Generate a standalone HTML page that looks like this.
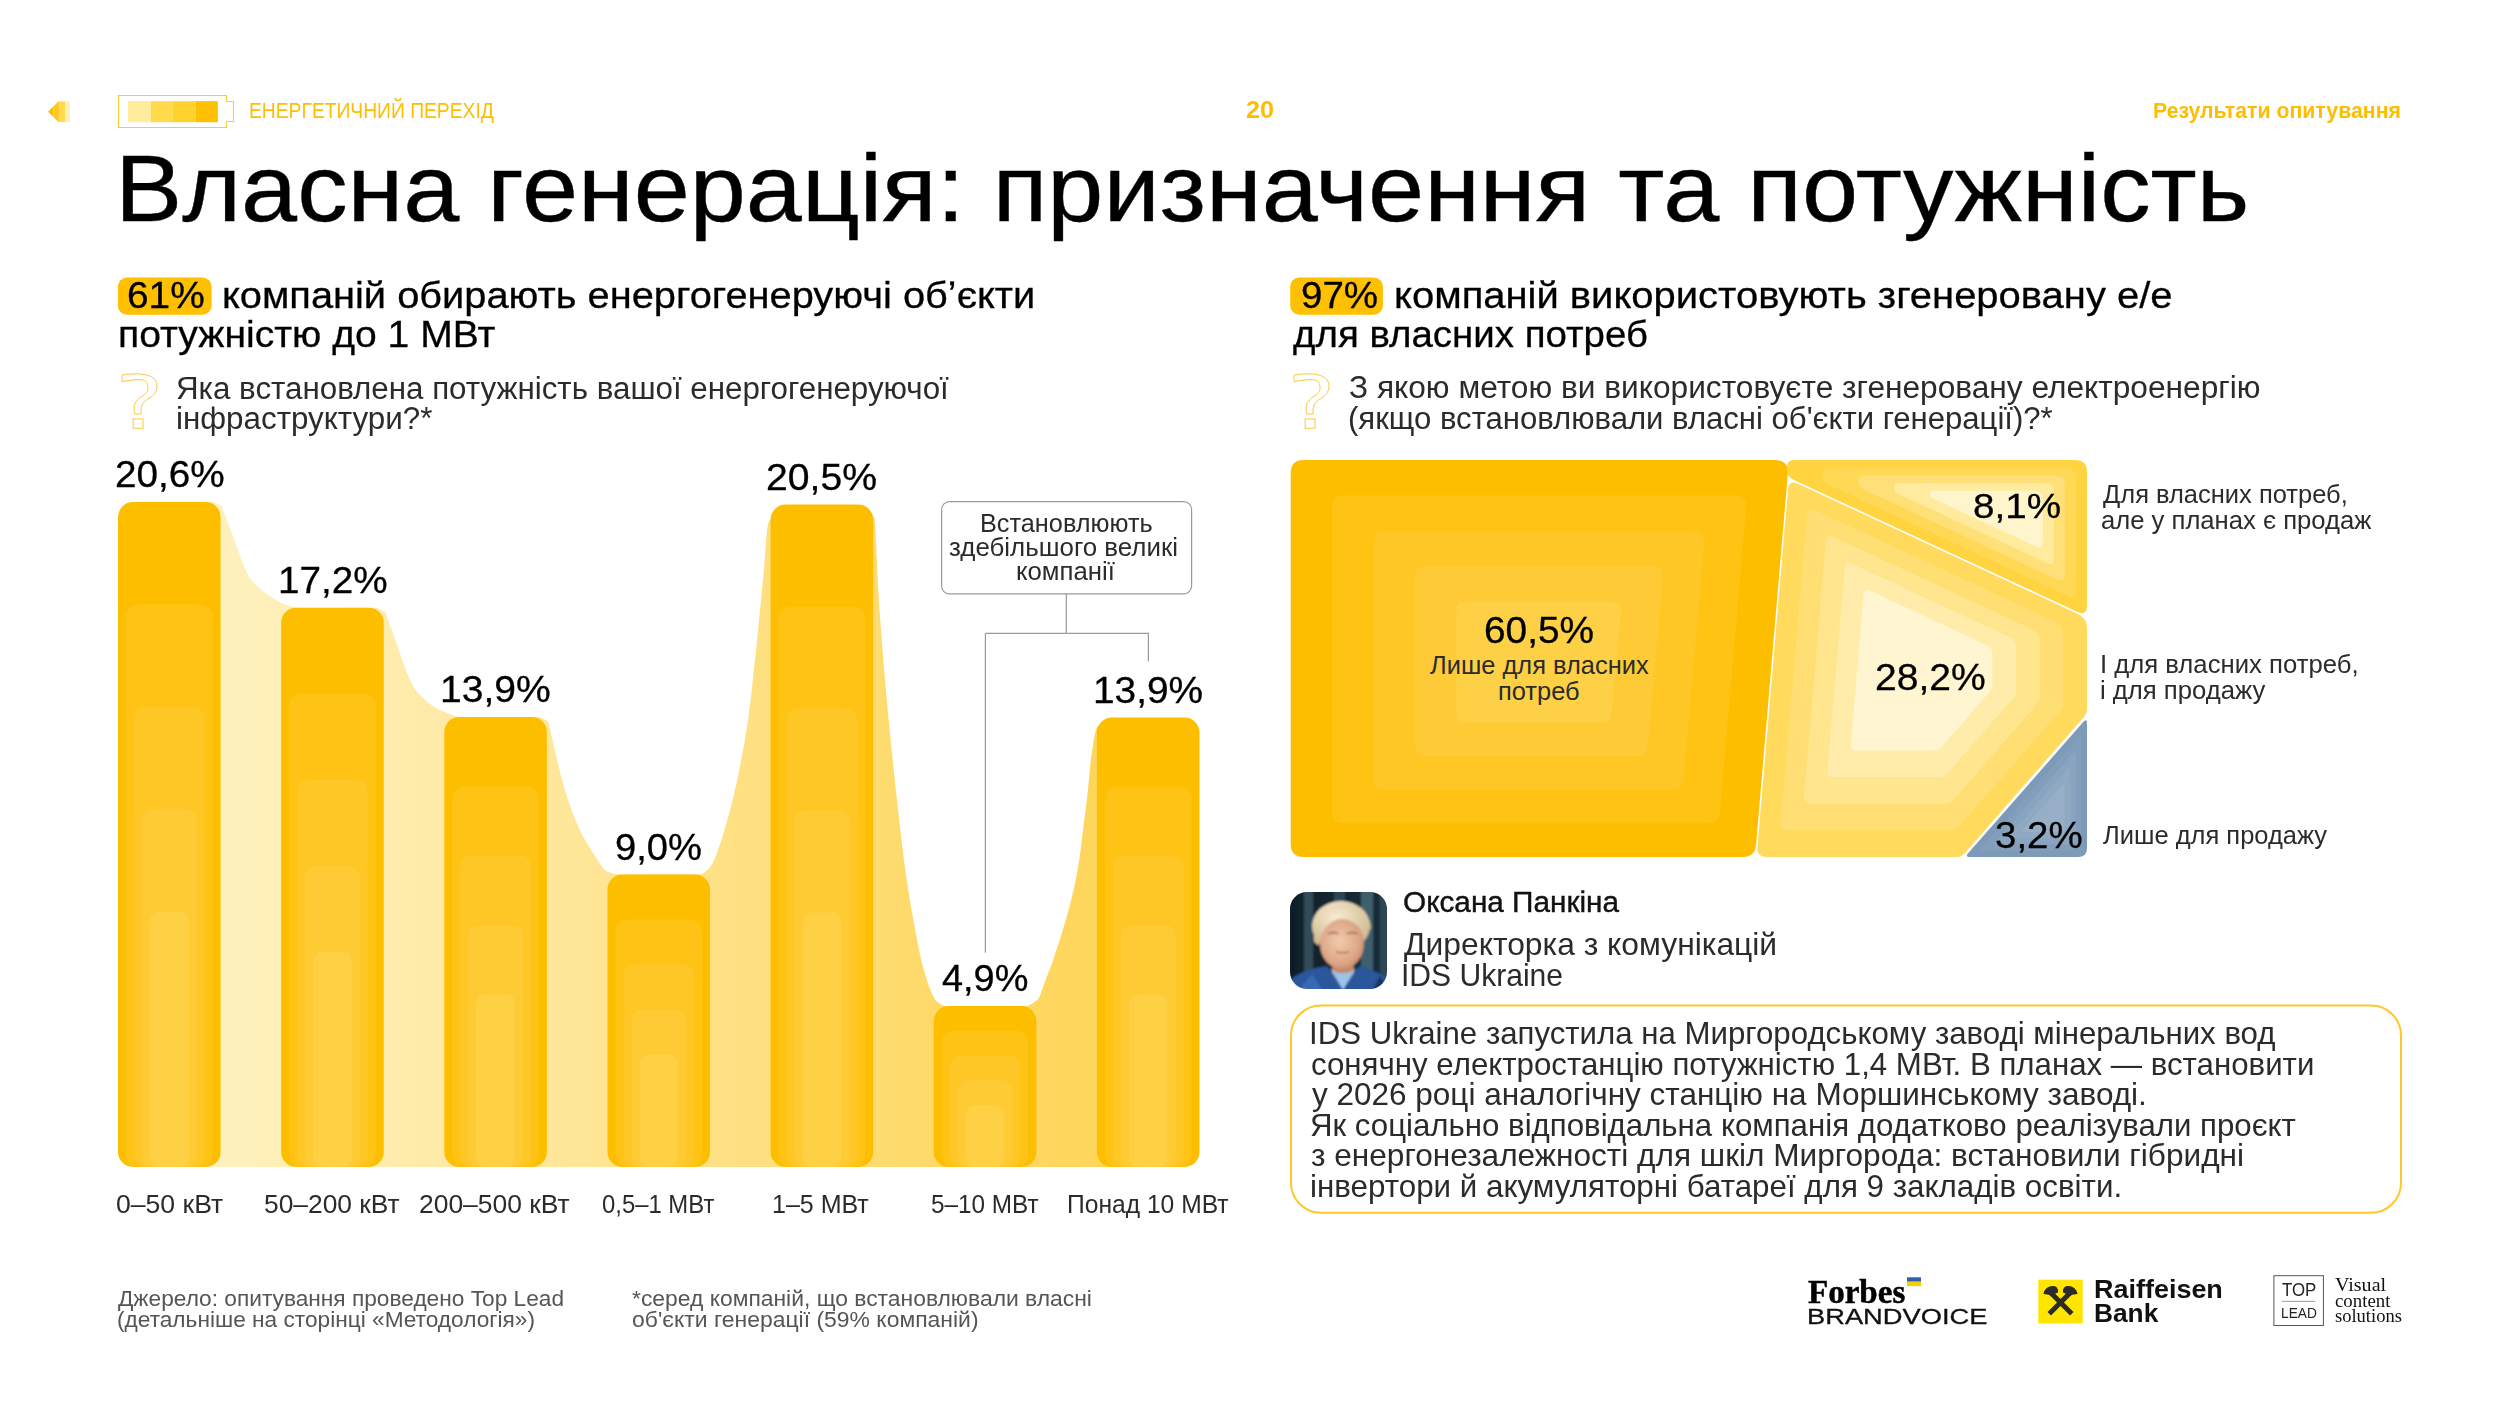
<!DOCTYPE html>
<html><head><meta charset="utf-8">
<style>
html,body{margin:0;padding:0;background:#fff;}
body{width:2520px;height:1418px;position:relative;overflow:hidden;}
.t{position:absolute;white-space:nowrap;line-height:1;transform-origin:0 0;}
svg{position:absolute;left:0;top:0;}
</style></head><body>
<svg width="2520" height="1418" viewBox="0 0 2520 1418">
<defs><clipPath id="arr"><polygon points="48,111.65 58.5,101.2 70.2,101.2 70.2,122.1 58.5,122.1"/></clipPath></defs>
<g clip-path="url(#arr)"><rect x="47" y="101.2" width="6.2" height="20.9" fill="#FEBE00"/><rect x="53.2" y="101.2" width="6" height="20.9" fill="#FEC823"/><rect x="59.2" y="101.2" width="5.9" height="20.9" fill="#FFD84D"/><rect x="65.1" y="101.2" width="5.1" height="20.9" fill="#FFF0B8"/></g>
<path d="M118.5,95.5 H226.5 V101.5 H233.5 V121.5 H226.5 V127.5 H118.5 Z" fill="none" stroke="#FFCA3A" stroke-width="1.1"/>
<rect x="128" y="101.2" width="23" height="21" fill="#FFEC9A"/>
<rect x="151" y="101.2" width="22" height="21" fill="#FFDA4A"/>
<rect x="173" y="101.2" width="23" height="21" fill="#FFD230"/>
<rect x="196" y="101.2" width="21.8" height="21" fill="#FEC000"/>
<rect x="117.9" y="277.6" width="93.7" height="37.1" rx="9" fill="#FEC000"/>
<g transform="translate(0,0)"><path d="M122,375.2 C128,373.8 135,373.6 140.5,374 C151,374.8 157.5,379 157,387 C156.6,392.5 153,396 148,399 C143.5,401.8 141.1,404.5 141.1,410.8 L141.1,414 L134.8,414 L134.1,410.8 C133.6,403 137,399.3 143,395.6 C147,393 148.3,390.5 148,386.5 C147.5,381.5 144.5,379.8 140.5,379.7 C134,379.5 128,380.5 122,381.6 Z" fill="none" stroke="#FEC63C" stroke-width="1"/><rect x="133.2" y="419" width="9.8" height="9.2" fill="none" stroke="#FEC63C" stroke-width="1"/></g>
<rect x="1290.2" y="277.6" width="92.7" height="37.1" rx="9" fill="#FEC000"/>
<g transform="translate(1172,0)"><path d="M122,375.2 C128,373.8 135,373.6 140.5,374 C151,374.8 157.5,379 157,387 C156.6,392.5 153,396 148,399 C143.5,401.8 141.1,404.5 141.1,410.8 L141.1,414 L134.8,414 L134.1,410.8 C133.6,403 137,399.3 143,395.6 C147,393 148.3,390.5 148,386.5 C147.5,381.5 144.5,379.8 140.5,379.7 C134,379.5 128,380.5 122,381.6 Z" fill="none" stroke="#FEC63C" stroke-width="1"/><rect x="133.2" y="419" width="9.8" height="9.2" fill="none" stroke="#FEC63C" stroke-width="1"/></g>
<defs><linearGradient id="ag" x1="118" y1="0" x2="1200" y2="0" gradientUnits="userSpaceOnUse"><stop offset="0" stop-color="#FEF3C6"/><stop offset="0.13" stop-color="#FEF0BA"/><stop offset="0.43" stop-color="#FEE697"/><stop offset="0.58" stop-color="#FEE082"/><stop offset="0.74" stop-color="#FEDA6B"/><stop offset="1" stop-color="#FED352"/></linearGradient></defs>
<path d="M134.0,1167.0 L123.0,1163.0 L118.5,1151.0 L118.5,522.0 L125.5,507.0 L134.00,502.50 L142.65,502.43 L155.21,502.32 L169.80,502.20 L184.50,502.09 L197.40,502.01 L206.60,502.00 L211.68,502.02 L214.07,502.06 L214.67,502.14 L214.36,502.27 L214.04,502.48 L214.60,502.80 L215.95,503.23 L217.36,503.77 L218.75,504.39 L220.06,505.06 L221.20,505.77 L222.10,506.50 L222.62,507.03 L222.79,507.36 L222.79,507.71 L222.82,508.36 L223.06,509.53 L223.70,511.50 L224.76,514.34 L226.10,517.88 L227.66,521.96 L229.35,526.41 L231.12,531.08 L232.90,535.80 L234.79,540.93 L236.87,546.67 L239.03,552.62 L241.14,558.41 L243.10,563.63 L244.80,567.90 L246.10,571.04 L247.07,573.33 L247.88,575.05 L248.72,576.51 L249.77,577.99 L251.20,579.80 L253.02,581.91 L255.09,584.10 L257.36,586.31 L259.79,588.50 L262.35,590.65 L265.00,592.70 L267.84,594.73 L270.94,596.78 L274.16,598.78 L277.37,600.64 L280.46,602.31 L283.30,603.70 L285.86,604.78 L288.23,605.60 L290.48,606.22 L292.66,606.69 L294.81,607.06 L297.00,607.40 L298.67,607.65 L299.65,607.76 L300.62,607.78 L302.23,607.75 L305.14,607.71 L310.00,607.70 L317.84,607.70 L328.33,607.68 L340.12,607.65 L351.86,607.63 L362.19,607.64 L369.75,607.70 L374.22,607.79 L376.60,607.89 L377.58,608.02 L377.81,608.20 L377.98,608.45 L378.75,608.80 L380.03,609.25 L381.26,609.78 L382.43,610.38 L383.50,611.04 L384.45,611.75 L385.25,612.50 L385.77,613.04 L385.99,613.32 L386.10,613.66 L386.26,614.33 L386.63,615.65 L387.40,617.90 L388.63,621.33 L390.21,625.76 L392.01,630.83 L393.91,636.18 L395.78,641.46 L397.50,646.30 L399.09,650.83 L400.64,655.34 L402.16,659.78 L403.67,664.08 L405.18,668.18 L406.70,672.00 L408.11,675.50 L409.40,678.71 L410.67,681.73 L412.08,684.61 L413.75,687.44 L415.80,690.30 L418.28,693.23 L421.08,696.19 L424.14,699.09 L427.40,701.88 L430.77,704.47 L434.20,706.80 L437.86,708.90 L441.84,710.84 L445.94,712.59 L449.96,714.12 L453.72,715.40 L457.00,716.40 L459.16,717.03 L460.21,717.29 L460.99,717.30 L462.33,717.18 L465.06,717.04 L470.00,717.00 L478.22,717.02 L489.27,717.00 L501.70,716.96 L514.08,716.93 L524.96,716.94 L532.90,717.00 L537.55,717.09 L539.99,717.20 L540.92,717.33 L541.08,717.53 L541.17,717.81 L541.90,718.20 L543.18,718.70 L544.42,719.27 L545.59,719.93 L546.67,720.69 L547.61,721.54 L548.40,722.50 L548.90,723.26 L549.11,723.75 L549.20,724.34 L549.32,725.40 L549.63,727.29 L550.30,730.40 L551.38,735.08 L552.75,741.10 L554.31,747.96 L555.97,755.16 L557.64,762.17 L559.20,768.50 L560.64,774.15 L562.03,779.54 L563.41,784.74 L564.85,789.86 L566.40,794.98 L568.10,800.20 L570.00,805.61 L572.05,811.17 L574.21,816.73 L576.43,822.15 L578.64,827.29 L580.80,832.00 L582.95,836.26 L585.13,840.19 L587.31,843.84 L589.45,847.25 L591.53,850.49 L593.50,853.60 L595.39,856.64 L597.23,859.56 L599.00,862.31 L600.68,864.81 L602.25,867.00 L603.70,868.80 L604.98,870.12 L606.09,871.00 L607.09,871.56 L608.04,871.93 L609.00,872.24 L610.00,872.60 L611.03,872.98 L612.05,873.28 L613.06,873.51 L614.10,873.69 L615.17,873.85 L616.30,874.00 L616.85,874.14 L616.68,874.25 L616.54,874.34 L617.21,874.40 L619.44,874.46 L624.00,874.50 L632.02,874.53 L643.10,874.56 L655.76,874.56 L668.47,874.56 L679.73,874.53 L688.05,874.50 L693.16,874.45 L696.20,874.40 L697.81,874.32 L698.57,874.24 L699.12,874.13 L700.05,874.00 L701.09,874.01 L701.69,874.19 L702.06,874.34 L702.43,874.29 L703.00,873.84 L704.00,872.80 L705.40,871.51 L707.04,870.18 L708.88,868.46 L710.91,865.96 L713.09,862.33 L715.40,857.20 L717.94,850.31 L720.76,841.92 L723.73,832.39 L726.74,822.10 L729.67,811.41 L732.40,800.70 L734.98,789.74 L737.52,778.18 L739.98,766.23 L742.32,754.08 L744.51,741.94 L746.50,730.00 L748.24,718.40 L749.75,707.01 L751.11,695.63 L752.38,684.05 L753.65,672.08 L755.00,659.50 L756.46,645.75 L757.97,630.88 L759.49,615.61 L760.94,600.67 L762.26,586.79 L763.40,574.70 L764.31,564.29 L765.02,554.95 L765.61,546.68 L766.14,539.44 L766.68,533.22 L767.30,528.00 L767.99,524.16 L768.70,521.80 L769.42,520.46 L770.14,519.68 L770.84,519.01 L771.50,518.00 L771.99,516.72 L772.29,515.56 L772.58,514.50 L773.01,513.56 L773.76,512.72 L775.00,512.00 L776.28,511.41 L777.36,510.96 L778.77,510.62 L781.00,510.37 L784.58,510.17 L790.00,510.00 L798.28,509.86 L809.21,509.78 L821.48,509.75 L833.77,509.78 L844.78,509.86 L853.20,510.00 L858.88,510.17 L862.84,510.35 L865.51,510.59 L867.34,510.93 L868.76,511.38 L870.20,512.00 L871.42,512.84 L872.02,513.89 L872.21,515.06 L872.19,516.27 L872.19,517.45 L872.40,518.50 L872.78,518.51 L873.14,517.37 L873.51,516.19 L873.91,516.09 L874.36,518.18 L874.90,523.60 L875.50,533.00 L876.15,545.63 L876.86,560.45 L877.63,576.45 L878.47,592.61 L879.40,607.90 L880.42,622.56 L881.53,637.45 L882.72,652.49 L883.97,667.62 L885.26,682.75 L886.60,697.80 L887.98,712.80 L889.40,727.80 L890.88,742.80 L892.40,757.80 L893.98,772.80 L895.60,787.80 L897.27,803.00 L899.00,818.44 L900.77,833.88 L902.60,849.07 L904.48,863.76 L906.40,877.70 L908.46,891.24 L910.67,904.65 L912.94,917.56 L915.15,929.60 L917.20,940.40 L919.00,949.60 L920.51,956.88 L921.80,962.46 L922.93,966.81 L923.97,970.37 L924.97,973.62 L926.00,977.00 L927.04,980.39 L928.03,983.41 L928.99,986.10 L929.91,988.53 L930.82,990.74 L931.70,992.80 L932.52,994.64 L933.25,996.22 L933.96,997.58 L934.70,998.79 L935.53,999.91 L936.50,1001.00 L937.64,1002.06 L938.91,1003.06 L940.27,1003.96 L941.67,1004.74 L943.06,1005.40 L944.40,1005.90 L945.00,1006.20 L944.76,1006.29 L944.51,1006.26 L945.08,1006.15 L947.30,1006.04 L952.00,1006.00 L960.41,1006.01 L972.12,1006.01 L985.48,1006.01 L998.84,1006.01 L1010.56,1006.01 L1019.00,1006.00 L1023.76,1006.03 L1026.07,1006.10 L1026.75,1006.16 L1026.59,1006.18 L1026.41,1006.11 L1027.00,1005.90 L1028.24,1005.55 L1029.47,1005.09 L1030.67,1004.54 L1031.83,1003.91 L1032.94,1003.23 L1034.00,1002.50 L1034.97,1001.84 L1035.86,1001.25 L1036.70,1000.60 L1037.53,999.76 L1038.38,998.61 L1039.30,997.00 L1040.28,994.83 L1041.29,992.18 L1042.32,989.21 L1043.38,986.09 L1044.44,982.96 L1045.50,980.00 L1046.51,977.37 L1047.48,974.99 L1048.45,972.60 L1049.49,969.98 L1050.65,966.89 L1052.00,963.10 L1053.59,958.45 L1055.40,953.09 L1057.33,947.26 L1059.29,941.20 L1061.21,935.13 L1063.00,929.30 L1064.68,923.65 L1066.32,918.00 L1067.92,912.35 L1069.46,906.70 L1070.92,901.05 L1072.30,895.40 L1073.59,889.76 L1074.81,884.13 L1075.96,878.50 L1077.04,872.87 L1078.05,867.24 L1079.00,861.60 L1079.86,855.95 L1080.61,850.30 L1081.31,844.65 L1081.96,839.00 L1082.62,833.35 L1083.30,827.70 L1084.02,822.06 L1084.74,816.43 L1085.46,810.80 L1086.16,805.17 L1086.85,799.54 L1087.50,793.90 L1088.10,788.20 L1088.64,782.43 L1089.17,776.65 L1089.70,770.94 L1090.27,765.37 L1090.90,760.00 L1091.60,754.63 L1092.35,749.16 L1093.14,743.82 L1093.95,738.86 L1094.77,734.50 L1095.60,731.00 L1096.44,728.53 L1097.30,726.93 L1098.17,725.94 L1099.05,725.30 L1099.93,724.74 L1100.80,724.00 L1101.56,723.11 L1102.21,722.30 L1102.85,721.56 L1103.61,720.93 L1104.62,720.40 L1106.00,720.00 L1107.25,719.77 L1108.18,719.70 L1109.36,719.75 L1111.34,719.85 L1114.70,719.95 L1120.00,720.00 L1128.45,720.00 L1139.85,720.00 L1152.62,720.00 L1165.20,720.00 L1176.02,720.00 L1183.50,720.00 L1193.5,722.0 L1199.0,735.5 L1199.0,1151.0 L1194.5,1163.0 L1183.5,1167.0 Z" fill="url(#ag)"/>
<rect x="118.00" y="502.00" width="102.60" height="665.00" rx="15" ry="15" fill="#FEBE00"/>
<rect x="126.00" y="604.41" width="86.60" height="562.59" rx="12" ry="12" fill="#FEC314"/>
<rect x="134.00" y="706.82" width="70.60" height="460.18" rx="11" ry="11" fill="#FEC726"/>
<rect x="142.00" y="809.23" width="54.60" height="357.77" rx="10" ry="10" fill="#FECB35"/>
<rect x="150.00" y="911.64" width="38.60" height="255.36" rx="9" ry="9" fill="#FED044"/>
<rect x="281.15" y="607.70" width="102.60" height="559.30" rx="15" ry="15" fill="#FEBE00"/>
<rect x="289.15" y="693.83" width="86.60" height="473.17" rx="12" ry="12" fill="#FEC314"/>
<rect x="297.15" y="779.96" width="70.60" height="387.04" rx="11" ry="11" fill="#FEC726"/>
<rect x="305.15" y="866.10" width="54.60" height="300.90" rx="10" ry="10" fill="#FECB35"/>
<rect x="313.15" y="952.23" width="38.60" height="214.77" rx="9" ry="9" fill="#FED044"/>
<rect x="444.30" y="717.00" width="102.60" height="450.00" rx="15" ry="15" fill="#FEBE00"/>
<rect x="452.30" y="786.30" width="86.60" height="380.70" rx="12" ry="12" fill="#FEC314"/>
<rect x="460.30" y="855.60" width="70.60" height="311.40" rx="11" ry="11" fill="#FEC726"/>
<rect x="468.30" y="924.90" width="54.60" height="242.10" rx="10" ry="10" fill="#FECB35"/>
<rect x="476.30" y="994.20" width="38.60" height="172.80" rx="9" ry="9" fill="#FED044"/>
<rect x="607.45" y="874.50" width="102.60" height="292.50" rx="15" ry="15" fill="#FEBE00"/>
<rect x="615.45" y="919.54" width="86.60" height="247.46" rx="12" ry="12" fill="#FEC314"/>
<rect x="623.45" y="964.59" width="70.60" height="202.41" rx="11" ry="11" fill="#FEC726"/>
<rect x="631.45" y="1009.63" width="54.60" height="157.37" rx="10" ry="10" fill="#FECB35"/>
<rect x="639.45" y="1054.68" width="38.60" height="112.32" rx="9" ry="9" fill="#FED044"/>
<rect x="770.60" y="504.50" width="102.60" height="662.50" rx="15" ry="15" fill="#FEBE00"/>
<rect x="778.60" y="606.52" width="86.60" height="560.48" rx="12" ry="12" fill="#FEC314"/>
<rect x="786.60" y="708.55" width="70.60" height="458.45" rx="11" ry="11" fill="#FEC726"/>
<rect x="794.60" y="810.58" width="54.60" height="356.42" rx="10" ry="10" fill="#FECB35"/>
<rect x="802.60" y="912.60" width="38.60" height="254.40" rx="9" ry="9" fill="#FED044"/>
<rect x="933.75" y="1006.00" width="102.60" height="161.00" rx="15" ry="15" fill="#FEBE00"/>
<rect x="941.75" y="1030.79" width="86.60" height="136.21" rx="12" ry="12" fill="#FEC314"/>
<rect x="949.75" y="1055.59" width="70.60" height="111.41" rx="11" ry="11" fill="#FEC726"/>
<rect x="957.75" y="1080.38" width="54.60" height="86.62" rx="10" ry="10" fill="#FECB35"/>
<rect x="965.75" y="1105.18" width="38.60" height="61.82" rx="9" ry="9" fill="#FED044"/>
<rect x="1096.90" y="717.50" width="102.60" height="449.50" rx="15" ry="15" fill="#FEBE00"/>
<rect x="1104.90" y="786.72" width="86.60" height="380.28" rx="12" ry="12" fill="#FEC314"/>
<rect x="1112.90" y="855.95" width="70.60" height="311.05" rx="11" ry="11" fill="#FEC726"/>
<rect x="1120.90" y="925.17" width="54.60" height="241.83" rx="10" ry="10" fill="#FECB35"/>
<rect x="1128.90" y="994.39" width="38.60" height="172.61" rx="9" ry="9" fill="#FED044"/>
<rect x="941.6" y="501.6" width="250" height="92.3" rx="8" fill="#fff" stroke="#9a9a9a" stroke-width="1.2"/>
<path d="M1066.3,594 V633.4 M985.4,633.4 H1148.4 V661.6 M985.4,633.4 V952.7" fill="none" stroke="#9a9a9a" stroke-width="1.2"/>
<path d="M1303.70,460.00 L1775.00,460.00 Q1789.00,460.00 1787.81,473.95 L1756.04,845.04 Q1755.02,857.00 1743.02,857.00 L1303.70,857.00 Q1290.70,857.00 1290.70,844.00 L1290.70,473.00 Q1290.70,460.00 1303.70,460.00 Z" fill="#FEBE00"/>
<path d="M1344.13,495.44 L1734.22,495.44 Q1747.22,495.44 1746.10,508.40 L1719.85,812.41 Q1718.91,823.37 1707.91,823.37 L1344.13,823.37 Q1332.13,823.37 1332.13,811.37 L1332.13,507.44 Q1332.13,495.44 1344.13,495.44 Z" fill="#FEC313"/>
<path d="M1384.57,530.89 L1693.43,530.89 Q1705.43,530.89 1704.39,542.84 L1683.67,779.77 Q1682.80,789.73 1672.80,789.73 L1384.57,789.73 Q1373.57,789.73 1373.57,778.73 L1373.57,541.89 Q1373.57,530.89 1384.57,530.89 Z" fill="#FEC726"/>
<path d="M1425.00,566.33 L1652.65,566.33 Q1663.65,566.33 1662.67,577.29 L1647.49,747.13 Q1646.69,756.10 1637.69,756.10 L1425.00,756.10 Q1415.00,756.10 1415.00,746.10 L1415.00,576.33 Q1415.00,566.33 1425.00,566.33 Z" fill="#FECB36"/>
<path d="M1465.43,601.78 L1611.87,601.78 Q1621.87,601.78 1620.94,611.73 L1611.33,714.50 Q1610.58,722.46 1602.58,722.46 L1465.43,722.46 Q1456.43,722.46 1456.43,713.46 L1456.43,610.78 Q1456.43,601.78 1465.43,601.78 Z" fill="#FED045"/>
<path d="M1794.00,460.00 L2075.00,460.00 Q2087.00,460.00 2087.00,472.00 L2087.00,605.43 Q2087.00,616.43 2077.03,611.79 L1793.35,479.82 Q1787.00,476.87 1787.00,469.87 L1787.00,467.00 Q1787.00,460.00 1794.00,460.00 Z" fill="#FFD440"/>
<path d="M1829.19,467.69 L2064.92,467.69 Q2075.92,467.69 2075.92,478.69 L2075.92,589.71 Q2075.92,599.71 2066.86,595.50 L1828.59,484.65 Q1822.72,481.93 1822.72,475.45 L1822.72,474.16 Q1822.72,467.69 1829.19,467.69 Z" fill="#FFD955"/>
<path d="M1863.72,475.38 L2054.85,475.38 Q2064.85,475.38 2064.85,485.38 L2064.85,574.00 Q2064.85,583.00 2056.69,579.21 L1863.23,489.21 Q1858.45,486.98 1858.45,481.71 L1858.45,480.66 Q1858.45,475.38 1863.72,475.38 Z" fill="#FFE078"/>
<path d="M1898.25,483.07 L2044.77,483.07 Q2053.77,483.07 2053.77,492.07 L2053.77,558.29 Q2053.77,566.29 2046.52,562.92 L1897.87,493.76 Q1894.17,492.04 1894.17,487.97 L1894.17,487.15 Q1894.17,483.07 1898.25,483.07 Z" fill="#FFEA9E"/>
<path d="M1932.78,490.76 L2034.70,490.76 Q2042.70,490.76 2042.70,498.76 L2042.70,542.58 Q2042.70,549.58 2036.35,546.63 L1932.51,498.32 Q1929.90,497.10 1929.90,494.22 L1929.90,493.65 Q1929.90,490.76 1932.78,490.76 Z" fill="#FFF5CD"/>
<path d="M1797.94,483.66 L2077.93,613.91 Q2087.00,618.13 2087.00,628.13 L2087.00,708.50 Q2087.00,713.50 2083.71,717.26 L1964.79,853.24 Q1961.50,857.00 1956.50,857.00 L1766.62,857.00 Q1756.62,857.00 1757.47,847.04 L1788.03,489.40 Q1788.88,479.44 1797.94,483.66 Z" fill="#FFDA5C"/>
<path d="M1815.86,510.39 L2055.18,621.72 Q2063.34,625.52 2063.34,634.52 L2063.34,702.30 Q2063.34,707.30 2060.05,711.06 L1959.02,826.59 Q1955.73,830.35 1950.73,830.35 L1789.04,830.35 Q1780.04,830.35 1780.81,821.39 L1806.94,515.56 Q1807.70,506.59 1815.86,510.39 Z" fill="#FFDF74"/>
<path d="M1833.79,537.12 L2032.44,629.54 Q2039.69,632.91 2039.69,640.91 L2039.69,696.10 Q2039.69,701.10 2036.40,704.87 L1953.25,799.94 Q1949.96,803.71 1944.96,803.71 L1811.47,803.71 Q1803.47,803.71 1804.15,795.73 L1825.85,541.72 Q1826.53,533.75 1833.79,537.12 Z" fill="#FFE58E"/>
<path d="M1851.71,563.86 L2009.69,637.35 Q2016.04,640.30 2016.04,647.30 L2016.04,689.90 Q2016.04,694.90 2012.74,698.67 L1947.48,773.29 Q1944.19,777.06 1939.19,777.06 L1833.89,777.06 Q1826.89,777.06 1827.49,770.08 L1844.76,567.88 Q1845.36,560.90 1851.71,563.86 Z" fill="#FFECAB"/>
<path d="M1869.63,590.59 L1986.94,645.16 Q1992.38,647.69 1992.38,653.69 L1992.38,683.71 Q1992.38,688.71 1989.09,692.47 L1941.71,746.65 Q1938.41,750.41 1933.41,750.41 L1856.32,750.41 Q1850.32,750.41 1850.83,744.43 L1863.68,594.04 Q1864.19,588.06 1869.63,590.59 Z" fill="#FFF5D0"/>
<path d="M2087.00,723.80 L2087.00,848.00 Q2087.00,857.00 2078.00,857.00 L1969.80,857.00 Q1964.80,857.00 1968.10,853.24 L2083.04,722.31 Q2087.00,717.80 2087.00,723.80 Z" fill="#7D9AB8"/>
<path d="M2081.40,739.83 L2081.40,842.76 Q2081.40,850.76 2073.40,850.76 L1983.75,850.76 Q1978.75,850.76 1982.05,847.00 L2077.44,738.34 Q2081.40,733.83 2081.40,739.83 Z" fill="#829EBB"/>
<path d="M2075.80,755.86 L2075.80,837.52 Q2075.80,844.52 2068.80,844.52 L1997.70,844.52 Q1992.70,844.52 1996.00,840.76 L2071.84,754.37 Q2075.80,749.86 2075.80,755.86 Z" fill="#89A4C0"/>
<path d="M2070.20,771.90 L2070.20,832.28 Q2070.20,838.28 2064.20,838.28 L2011.66,838.28 Q2006.66,838.28 2009.95,834.52 L2066.24,770.41 Q2070.20,765.90 2070.20,771.90 Z" fill="#90A9C3"/>
<path d="M2064.60,787.93 L2064.60,827.04 Q2064.60,832.04 2059.60,832.04 L2025.61,832.04 Q2020.61,832.04 2023.91,828.28 L2060.64,786.44 Q2064.60,781.93 2064.60,787.93 Z" fill="#97AEC7"/>
<defs><clipPath id="ph"><rect x="1290" y="892" width="97" height="97" rx="17"/></clipPath><filter id="blr" x="-10%" y="-10%" width="120%" height="120%"><feGaussianBlur stdDeviation="1.3"/></filter><radialGradient id="face" cx="0.45" cy="0.45" r="0.6"><stop offset="0" stop-color="#F2CBAE"/><stop offset="0.75" stop-color="#DDA585"/><stop offset="1" stop-color="#C0886A"/></radialGradient><radialGradient id="hair" cx="0.4" cy="0.3" r="0.75"><stop offset="0" stop-color="#F6ECD2"/><stop offset="1" stop-color="#CDB489"/></radialGradient><linearGradient id="bgph" x1="0" y1="0" x2="1" y2="0"><stop offset="0" stop-color="#0F1E26"/><stop offset="1" stop-color="#1A2F3A"/></linearGradient></defs>
<g clip-path="url(#ph)"><g filter="url(#blr)"><rect x="1285" y="887" width="107" height="107" fill="url(#bgph)"/><rect x="1304" y="887" width="9" height="107" fill="#48697A" opacity="0.6"/><rect x="1334" y="887" width="11" height="107" fill="#3E5E70" opacity="0.55"/><rect x="1361" y="887" width="12" height="107" fill="#5E8294" opacity="0.6"/><rect x="1380" y="887" width="8" height="107" fill="#41606E" opacity="0.5"/><path d="M1333,958 L1353,958 L1355,984 L1331,984 Z" fill="#C48B6C"/><ellipse cx="1341" cy="926" rx="29" ry="25" fill="url(#hair)"/><ellipse cx="1342" cy="944" rx="22" ry="25" fill="url(#face)"/><path d="M1314,942 C1312,918 1326,904 1345,905 C1362,906 1371,916 1371,930 C1364,920 1352,916 1340,918 C1329,921 1321,930 1319,946 Z" fill="url(#hair)"/><path d="M1290,994 L1290,980 C1298,973 1312,968 1327,966 L1343,988 L1359,966 C1372,969 1382,975 1392,980 L1392,994 Z" fill="#2A569B"/><path d="M1296,994 L1312,974 L1325,994 Z" fill="#3D73BD" opacity="0.7"/><path d="M1370,994 L1380,976 L1392,994 Z" fill="#132A4E" opacity="0.7"/><path d="M1330,968 L1343,990 L1356,968 C1350,975 1336,975 1330,968 Z" fill="#9CC3E8"/><path d="M1328,934 C1331,932 1336,932 1338,934 M1347,934 C1350,932 1355,932 1357,934" stroke="#5B4A46" stroke-width="1.4" fill="none" opacity="0.75"/><path d="M1336,952 C1340,953 1345,953 1349,952" stroke="#9A5E4A" stroke-width="1.6" fill="none" opacity="0.7"/></g></g>
<rect x="1291" y="1005.4" width="1110" height="207.4" rx="30" fill="none" stroke="#FEC72A" stroke-width="2"/>
<rect x="1907" y="1277.3" width="14" height="4.4" fill="#2F5FB0"/><rect x="1907" y="1281.7" width="14" height="4.5" fill="#F5D000"/>
<rect x="2038.3" y="1279.6" width="44.4" height="43.9" fill="#FFE500"/>
<g fill="#2B2B2B"><path d="M2047.5,1312 L2051,1315.5 L2072.5,1294 L2069,1290.5 Z"/><path d="M2073.5,1312 L2070,1315.5 L2048.5,1294 L2052,1290.5 Z"/><path d="M2043.5,1294 C2044.5,1288 2050,1285 2055.5,1286.5 C2057.5,1287.5 2058.5,1290 2058,1292.5 L2055.5,1293.5 L2054,1298 L2050.5,1295.5 C2048,1294 2046,1294.5 2043.5,1294 Z"/><path d="M2077.5,1294 C2076.5,1288 2071,1285 2065.5,1286.5 C2063.5,1287.5 2062.5,1290 2063,1292.5 L2065.5,1293.5 L2067,1298 L2070.5,1295.5 C2073,1294 2075,1294.5 2077.5,1294 Z"/></g>
<rect x="2273.9" y="1275.7" width="49.5" height="49.8" fill="none" stroke="#555" stroke-width="1"/>
<rect x="2281.6" y="1300.8" width="33.8" height="1.2" fill="#C9A0A0"/>
</svg>
<div class="t" style="left:248.51px;top:100.79px;font-size:21.51px;font-family:'Liberation Sans', sans-serif;font-weight:normal;color:#FEBE00;transform:scaleX(0.8960);">ЕНЕРГЕТИЧНИЙ ПЕРЕХІД</div>
<div class="t" style="left:1245.92px;top:99.31px;font-size:23.26px;font-family:'Liberation Sans', sans-serif;font-weight:bold;color:#FEBE00;transform:scaleX(1.0833);">20</div>
<div class="t" style="left:2153.06px;top:98.81px;font-size:22.67px;font-family:'Liberation Sans', sans-serif;font-weight:bold;color:#FEBE00;transform:scaleX(0.9389);">Результати опитування</div>
<div class="t" style="left:115.46px;top:141.02px;font-size:94.48px;font-family:'Liberation Sans', sans-serif;font-weight:normal;color:#000;transform:scaleX(1.0674);-webkit-text-stroke:0.4px #000;">Власна генерація: призначення та потужність</div>
<div class="t" style="left:126.94px;top:277.41px;font-size:37.79px;font-family:'Liberation Sans', sans-serif;font-weight:normal;color:#000;transform:scaleX(1.0278);-webkit-text-stroke:0.3px #000;">61%</div>
<div class="t" style="left:221.84px;top:277.41px;font-size:37.79px;font-family:'Liberation Sans', sans-serif;font-weight:normal;color:#000;transform:scaleX(1.0535);-webkit-text-stroke:0.3px #000;">компаній обирають енергогенеруючі обʼєкти</div>
<div class="t" style="left:117.70px;top:316.11px;font-size:37.79px;font-family:'Liberation Sans', sans-serif;font-weight:normal;color:#000;transform:scaleX(1.0337);-webkit-text-stroke:0.3px #000;">потужністю до 1 МВт</div>
<div class="t" style="left:1300.56px;top:277.41px;font-size:37.79px;font-family:'Liberation Sans', sans-serif;font-weight:normal;color:#000;transform:scaleX(1.0194);-webkit-text-stroke:0.3px #000;">97%</div>
<div class="t" style="left:1393.63px;top:277.41px;font-size:37.79px;font-family:'Liberation Sans', sans-serif;font-weight:normal;color:#000;transform:scaleX(1.0577);-webkit-text-stroke:0.3px #000;">компаній використовують згенеровану е/е</div>
<div class="t" style="left:1292.80px;top:316.11px;font-size:37.79px;font-family:'Liberation Sans', sans-serif;font-weight:normal;color:#000;transform:scaleX(1.0179);-webkit-text-stroke:0.3px #000;">для власних потреб</div>
<div class="t" style="left:175.87px;top:373.52px;font-size:30.81px;font-family:'Liberation Sans', sans-serif;font-weight:normal;color:#2b2b2b;transform:scaleX(1.0166);">Яка встановлена потужність вашої енергогенеруючої</div>
<div class="t" style="left:176.46px;top:403.72px;font-size:30.81px;font-family:'Liberation Sans', sans-serif;font-weight:normal;color:#2b2b2b;transform:scaleX(1.0181);">інфраструктури?*</div>
<div class="t" style="left:1349.47px;top:373.42px;font-size:30.81px;font-family:'Liberation Sans', sans-serif;font-weight:normal;color:#2b2b2b;transform:scaleX(1.0277);">З якою метою ви використовуєте згенеровану електроенергію</div>
<div class="t" style="left:1348.48px;top:403.72px;font-size:30.81px;font-family:'Liberation Sans', sans-serif;font-weight:normal;color:#2b2b2b;transform:scaleX(1.0093);">(якщо встановлювали власні об&#x27;єкти генерації)?*</div>
<div class="t" style="left:114.61px;top:456.02px;font-size:37.06px;font-family:'Liberation Sans', sans-serif;font-weight:normal;color:#000;transform:scaleX(1.0441);-webkit-text-stroke:0.3px #000;">20,6%</div>
<div class="t" style="left:115.67px;top:1192.40px;font-size:25.87px;font-family:'Liberation Sans', sans-serif;font-weight:normal;color:#2b2b2b;transform:scaleX(1.0282);">0–50 кВт</div>
<div class="t" style="left:277.87px;top:561.72px;font-size:37.06px;font-family:'Liberation Sans', sans-serif;font-weight:normal;color:#000;transform:scaleX(1.0426);-webkit-text-stroke:0.3px #000;">17,2%</div>
<div class="t" style="left:263.98px;top:1192.40px;font-size:25.87px;font-family:'Liberation Sans', sans-serif;font-weight:normal;color:#2b2b2b;transform:scaleX(1.0197);">50–200 кВт</div>
<div class="t" style="left:440.44px;top:671.02px;font-size:37.06px;font-family:'Liberation Sans', sans-serif;font-weight:normal;color:#000;transform:scaleX(1.0535);-webkit-text-stroke:0.3px #000;">13,9%</div>
<div class="t" style="left:419.18px;top:1192.40px;font-size:25.87px;font-family:'Liberation Sans', sans-serif;font-weight:normal;color:#2b2b2b;transform:scaleX(1.0224);">200–500 кВт</div>
<div class="t" style="left:614.94px;top:828.52px;font-size:37.06px;font-family:'Liberation Sans', sans-serif;font-weight:normal;color:#000;transform:scaleX(1.0293);-webkit-text-stroke:0.3px #000;">9,0%</div>
<div class="t" style="left:602.18px;top:1192.40px;font-size:25.87px;font-family:'Liberation Sans', sans-serif;font-weight:normal;color:#2b2b2b;transform:scaleX(0.9231);">0,5–1 МВт</div>
<div class="t" style="left:766.29px;top:458.52px;font-size:37.06px;font-family:'Liberation Sans', sans-serif;font-weight:normal;color:#000;transform:scaleX(1.0569);-webkit-text-stroke:0.3px #000;">20,5%</div>
<div class="t" style="left:772.07px;top:1192.40px;font-size:25.87px;font-family:'Liberation Sans', sans-serif;font-weight:normal;color:#2b2b2b;transform:scaleX(0.9673);">1–5 МВт</div>
<div class="t" style="left:941.88px;top:960.02px;font-size:37.06px;font-family:'Liberation Sans', sans-serif;font-weight:normal;color:#000;transform:scaleX(1.0229);-webkit-text-stroke:0.3px #000;">4,9%</div>
<div class="t" style="left:930.96px;top:1192.40px;font-size:25.87px;font-family:'Liberation Sans', sans-serif;font-weight:normal;color:#2b2b2b;transform:scaleX(0.9404);">5–10 МВт</div>
<div class="t" style="left:1093.06px;top:671.52px;font-size:37.06px;font-family:'Liberation Sans', sans-serif;font-weight:normal;color:#000;transform:scaleX(1.0475);-webkit-text-stroke:0.3px #000;">13,9%</div>
<div class="t" style="left:1066.80px;top:1192.40px;font-size:25.87px;font-family:'Liberation Sans', sans-serif;font-weight:normal;color:#2b2b2b;transform:scaleX(0.9524);">Понад 10 МВт</div>
<div class="t" style="left:979.99px;top:510.51px;font-size:25.15px;font-family:'Liberation Sans', sans-serif;font-weight:normal;color:#2b2b2b;transform:scaleX(1.0059);">Встановлюють</div>
<div class="t" style="left:948.97px;top:534.61px;font-size:25.15px;font-family:'Liberation Sans', sans-serif;font-weight:normal;color:#2b2b2b;transform:scaleX(1.0300);">здебільшого великі</div>
<div class="t" style="left:1015.75px;top:559.01px;font-size:25.15px;font-family:'Liberation Sans', sans-serif;font-weight:normal;color:#2b2b2b;transform:scaleX(1.0242);">компанії</div>
<div class="t" style="left:1484.35px;top:613.09px;font-size:36.05px;font-family:'Liberation Sans', sans-serif;font-weight:normal;color:#000;transform:scaleX(1.0758);-webkit-text-stroke:0.3px #000;">60,5%</div>
<div class="t" style="left:1430.00px;top:652.97px;font-size:25.44px;font-family:'Liberation Sans', sans-serif;font-weight:normal;color:#2b2b2b;">Лише для власних</div>
<div class="t" style="left:1498.00px;top:679.07px;font-size:25.44px;font-family:'Liberation Sans', sans-serif;font-weight:normal;color:#2b2b2b;">потреб</div>
<div class="t" style="left:1972.63px;top:488.86px;font-size:35.61px;font-family:'Liberation Sans', sans-serif;font-weight:normal;color:#000;transform:scaleX(1.0846);-webkit-text-stroke:0.3px #000;">8,1%</div>
<div class="t" style="left:1874.95px;top:660.04px;font-size:36.34px;font-family:'Liberation Sans', sans-serif;font-weight:normal;color:#000;transform:scaleX(1.0740);-webkit-text-stroke:0.3px #000;">28,2%</div>
<div class="t" style="left:1995.38px;top:817.84px;font-size:36.34px;font-family:'Liberation Sans', sans-serif;font-weight:normal;color:#000;transform:scaleX(1.0587);-webkit-text-stroke:0.3px #000;">3,2%</div>
<div class="t" style="left:2102.50px;top:481.87px;font-size:25.44px;font-family:'Liberation Sans', sans-serif;font-weight:normal;color:#2b2b2b;transform:scaleX(1.0021);">Для власних потреб,</div>
<div class="t" style="left:2101.49px;top:507.87px;font-size:25.44px;font-family:'Liberation Sans', sans-serif;font-weight:normal;color:#2b2b2b;transform:scaleX(1.0075);">але у планах є продаж</div>
<div class="t" style="left:2100.48px;top:651.87px;font-size:25.44px;font-family:'Liberation Sans', sans-serif;font-weight:normal;color:#2b2b2b;transform:scaleX(1.0099);">І для власних потреб,</div>
<div class="t" style="left:2100.48px;top:678.47px;font-size:25.44px;font-family:'Liberation Sans', sans-serif;font-weight:normal;color:#2b2b2b;transform:scaleX(1.0093);">і для продажу</div>
<div class="t" style="left:2102.50px;top:822.97px;font-size:25.44px;font-family:'Liberation Sans', sans-serif;font-weight:normal;color:#2b2b2b;transform:scaleX(1.0022);">Лише для продажу</div>
<div class="t" style="left:1403.38px;top:888.39px;font-size:29.07px;font-family:'Liberation Sans', sans-serif;font-weight:normal;color:#111;transform:scaleX(1.0233);-webkit-text-stroke:0.4px #111;">Оксана Панкіна</div>
<div class="t" style="left:1404.40px;top:928.76px;font-size:30.52px;font-family:'Liberation Sans', sans-serif;font-weight:normal;color:#2b2b2b;transform:scaleX(1.0421);">Директорка з комунікацій</div>
<div class="t" style="left:1401.44px;top:959.56px;font-size:30.52px;font-family:'Liberation Sans', sans-serif;font-weight:normal;color:#2b2b2b;transform:scaleX(0.9851);">IDS Ukraine</div>
<div class="t" style="left:1308.68px;top:1019.29px;font-size:30.96px;font-family:'Liberation Sans', sans-serif;font-weight:normal;color:#2b2b2b;transform:scaleX(1.0082);">IDS Ukraine запустила на Миргородському заводі мінеральних вод</div>
<div class="t" style="left:1310.69px;top:1049.79px;font-size:30.96px;font-family:'Liberation Sans', sans-serif;font-weight:normal;color:#2b2b2b;transform:scaleX(1.0091);">сонячну електростанцію потужністю 1,4 МВт. В планах — встановити</div>
<div class="t" style="left:1311.70px;top:1080.29px;font-size:30.96px;font-family:'Liberation Sans', sans-serif;font-weight:normal;color:#2b2b2b;transform:scaleX(1.0175);">у 2026 році аналогічну станцію на Моршинському заводі.</div>
<div class="t" style="left:1309.68px;top:1110.79px;font-size:30.96px;font-family:'Liberation Sans', sans-serif;font-weight:normal;color:#2b2b2b;transform:scaleX(1.0083);">Як соціально відповідальна компанія додатково реалізували проєкт</div>
<div class="t" style="left:1310.68px;top:1141.29px;font-size:30.96px;font-family:'Liberation Sans', sans-serif;font-weight:normal;color:#2b2b2b;transform:scaleX(1.0206);">з енергонезалежності для шкіл Миргорода: встановили гібридні</div>
<div class="t" style="left:1309.68px;top:1171.79px;font-size:30.96px;font-family:'Liberation Sans', sans-serif;font-weight:normal;color:#2b2b2b;transform:scaleX(1.0122);">інвертори й акумуляторні батареї для 9 закладів освіти.</div>
<div class="t" style="left:118.30px;top:1288.24px;font-size:21.80px;font-family:'Liberation Sans', sans-serif;font-weight:normal;color:#555;transform:scaleX(1.0407);">Джерело: опитування проведено Top Lead</div>
<div class="t" style="left:117.26px;top:1309.24px;font-size:21.80px;font-family:'Liberation Sans', sans-serif;font-weight:normal;color:#555;transform:scaleX(1.0400);">(детальніше на сторінці «Методологія»)</div>
<div class="t" style="left:632.35px;top:1288.24px;font-size:21.80px;font-family:'Liberation Sans', sans-serif;font-weight:normal;color:#555;transform:scaleX(1.0491);">*серед компаній, що встановлювали власні</div>
<div class="t" style="left:632.35px;top:1309.24px;font-size:21.80px;font-family:'Liberation Sans', sans-serif;font-weight:normal;color:#555;transform:scaleX(1.0520);">об&#x27;єкти генерації (59% компаній)</div>
<div class="t" style="left:1808.24px;top:1273.72px;font-size:34.36px;font-family:'Liberation Serif', serif;font-weight:bold;color:#000;transform:scaleX(0.9616);-webkit-text-stroke:0.5px #000;">Forbes</div>
<div class="t" style="left:1806.70px;top:1305.84px;font-size:21.80px;font-family:'Liberation Sans', sans-serif;font-weight:normal;color:#111;transform:scaleX(1.2521);-webkit-text-stroke:0.3px #111;">BRANDVOICE</div>
<div class="t" style="left:2094.17px;top:1276.08px;font-size:26.60px;font-family:'Liberation Sans', sans-serif;font-weight:bold;color:#111;transform:scaleX(1.0137);">Raiffeisen</div>
<div class="t" style="left:2094.22px;top:1300.48px;font-size:26.60px;font-family:'Liberation Sans', sans-serif;font-weight:bold;color:#111;transform:scaleX(0.9889);">Bank</div>
<div class="t" style="left:2281.60px;top:1281.67px;font-size:17.88px;font-family:'Liberation Sans', sans-serif;font-weight:normal;color:#222;transform:scaleX(0.9444);">TOP</div>
<div class="t" style="left:2280.66px;top:1306.00px;font-size:14.54px;font-family:'Liberation Sans', sans-serif;font-weight:normal;color:#222;transform:scaleX(0.9444);">LEAD</div>
<div class="t" style="left:2334.65px;top:1274.51px;font-size:19.09px;font-family:'Liberation Serif', serif;font-weight:normal;color:#111;transform:scaleX(1.0500);">Visual</div>
<div class="t" style="left:2335.21px;top:1290.51px;font-size:19.09px;font-family:'Liberation Serif', serif;font-weight:normal;color:#111;transform:scaleX(0.9873);">content</div>
<div class="t" style="left:2334.73px;top:1306.21px;font-size:19.09px;font-family:'Liberation Serif', serif;font-weight:normal;color:#111;transform:scaleX(0.9706);">solutions</div>
</body></html>
